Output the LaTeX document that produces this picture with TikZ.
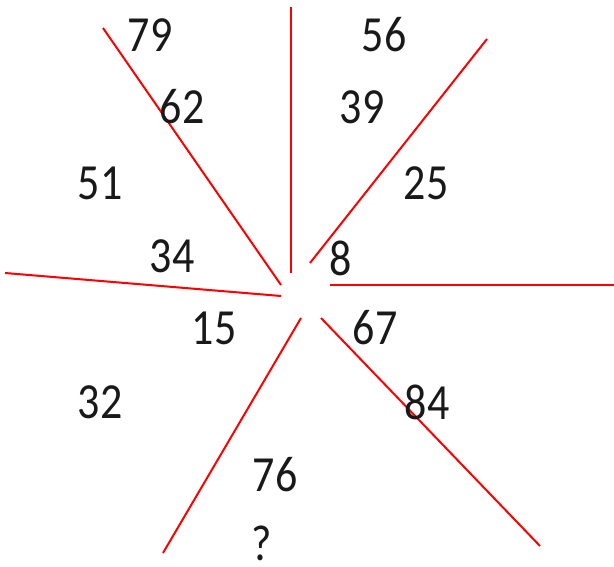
\documentclass[tikz,border=0pt]{standalone}
\usepackage{fontspec}
\usepackage{graphicx}
\setmainfont{Carlito}
\newcommand{\tallnum}[1]{\scalebox{1}[1.15]{#1}}
\begin{document}
\begin{tikzpicture}[x=1pt,y=-1pt,
  ray/.style={draw=red, line width=2pt},
  num/.style={font=\fontsize{44}{44}\selectfont, inner sep=0pt, anchor=center, text=black!90}]
\useasboundingbox (0,0) rectangle (614,567);
\draw[ray] (103,28) -- (281,285);
\draw[ray] (291,7) -- (291,273);
\draw[ray] (487,39) -- (310,263);
\draw[ray] (330,285) -- (614,285);
\draw[ray] (321,318) -- (540,546);
\draw[ray] (301,318) -- (163,553);
\draw[ray] (5,273) -- (281,296);
\node[num] (n79) at (150,35) {\tallnum{79}};
\node[num] (n56) at (384,35) {\tallnum{56}};
\node[num] (n62) at (182,107) {\tallnum{62}};
\node[num] (n39) at (362,107) {\tallnum{39}};
\node[num] (n51) at (100,183) {\tallnum{51}};
\node[num] (n25) at (426,183) {\tallnum{25}};
\node[num] (n34) at (172,256) {\tallnum{34}};
\node[num] (n8) at (341,258) {\tallnum{8}};
\node[num] (n15) at (214,328) {\tallnum{15}};
\node[num] (n67) at (375,328) {\tallnum{67}};
\node[num] (n32) at (100,402) {\tallnum{32}};
\node[num] (n84) at (427,402) {\tallnum{84}};
\node[num] (n76) at (275,475) {\tallnum{76}};
\node[num] (nq) at (262,543) {\tallnum{?}};
\end{tikzpicture}
\end{document}
